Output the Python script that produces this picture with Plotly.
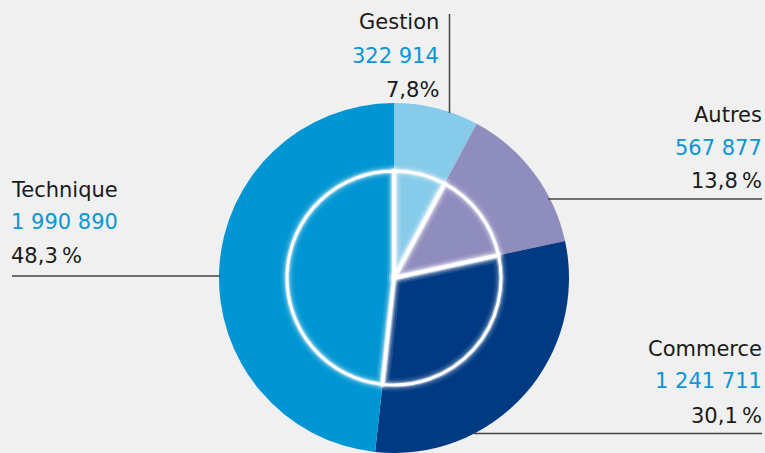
import plotly.graph_objects as go

# ---- data ----
categories = ["Gestion", "Autres", "Commerce", "Technique"]
values = [322914, 567877, 1241711, 1990890]
percent_labels = ["7,8%", "13,8\u2009%", "30,1\u2009%", "48,3\u2009%"]
colors = ["#86CBE9", "#8F8CBE", "#003A82", "#0096D3"]

W, H = 765, 453
BG = "#f0f0f0"

def fmt(v):
    return f"{v:,}".replace(",", " ")

def px_x(x):
    return x / W

def px_y(y):
    return 1 - y / H

cx, cy = 394, 278
R_OUT, R_IN = 175, 107

fig = go.Figure()

# outer pie
fig.add_trace(go.Pie(
    labels=categories, values=values, sort=False, direction="clockwise", rotation=0,
    marker=dict(colors=colors, line=dict(width=0)),
    textinfo="none", hoverinfo="skip", showlegend=False,
    domain=dict(x=[px_x(cx - R_OUT), px_x(cx + R_OUT)], y=[px_y(cy + R_OUT), px_y(cy - R_OUT)]),
))

# inner pie outlines with glow
inner_dom = dict(x=[px_x(cx - R_IN), px_x(cx + R_IN)], y=[px_y(cy + R_IN), px_y(cy - R_IN)])
for w, a in [(14, 0.06), (10, 0.10), (7, 0.18), (5, 0.35), (3, 1.0)]:
    fig.add_trace(go.Pie(
        labels=categories, values=values, sort=False, direction="clockwise", rotation=0,
        marker=dict(colors=["rgba(0,0,0,0)"] * len(values),
                    line=dict(width=w, color=f"rgba(255,255,255,{a})")),
        textinfo="none", hoverinfo="skip", showlegend=False,
        domain=inner_dom,
    ))

label_pos = {
    "Gestion": (441, "right", [29, 63, 97]),
    "Autres": (764, "right", [122, 155, 188]),
    "Commerce": (764, "right", [356, 388, 423]),
    "Technique": (9, "left", [197, 229, 263]),
}
FS = 21
annotations = []
for i, cat in enumerate(categories):
    x, al, bls = label_pos[cat]
    texts = [cat, fmt(values[i]), percent_labels[i]]
    cols = ["#1a1a1a", "#0a96d4", "#1a1a1a"]
    for t, c, bl in zip(texts, cols, bls):
        annotations.append(dict(
            text=t, x=px_x(x), y=px_y(bl - 7), xref="paper", yref="paper",
            xanchor=al, yanchor="middle", showarrow=False,
            font=dict(family="DejaVu Sans, sans-serif", size=FS, color=c),
        ))

LC = "#444444"
shapes = [
    dict(type="line", xref="paper", yref="paper", x0=px_x(449.5), x1=px_x(449.5), y0=px_y(14), y1=px_y(113), line=dict(color=LC, width=1.5)),
    dict(type="line", xref="paper", yref="paper", x0=px_x(12), x1=px_x(220), y0=px_y(276), y1=px_y(276), line=dict(color=LC, width=1.5)),
    dict(type="line", xref="paper", yref="paper", x0=px_x(548), x1=px_x(762), y0=px_y(199), y1=px_y(199), line=dict(color=LC, width=1.5)),
    dict(type="line", xref="paper", yref="paper", x0=px_x(474), x1=px_x(762), y0=px_y(433.5), y1=px_y(433.5), line=dict(color=LC, width=1.5)),
]

fig.update_layout(
    width=W, height=H,
    margin=dict(l=0, r=0, t=0, b=0),
    paper_bgcolor=BG, plot_bgcolor=BG,
    annotations=annotations, shapes=shapes,
)

fig.write_html("out.html", config={"displayModeBar": False},
               post_script="document.body.style.margin='0';document.body.style.overflow='hidden';")
